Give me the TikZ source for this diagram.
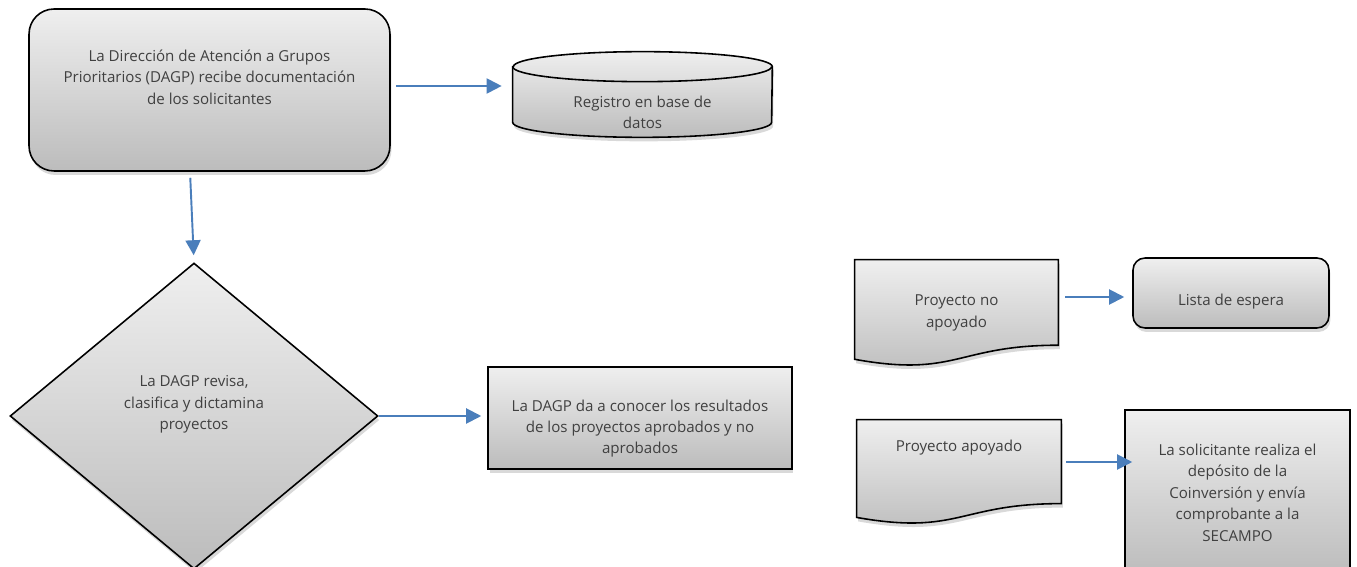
\documentclass[tikz,border=0pt]{standalone}
\usepackage{fontspec}
\setmainfont{Open Sans}
\usetikzlibrary{shapes.geometric, arrows.meta, calc, shadows, backgrounds}

\definecolor{azulflecha}{HTML}{4A7EBB}
\definecolor{grisclaro}{HTML}{EFEFEF}
\definecolor{grisoscuro}{HTML}{BCBCBC}
\definecolor{gristexto}{HTML}{404040}

\tikzset{
  relleno/.style={draw=black, line width=0.9pt, top color=grisclaro, bottom color=grisoscuro,
    drop shadow={shadow xshift=0.03cm, shadow yshift=-0.08cm, opacity=0.3}},
  caja/.style={relleno, text=gristexto, font=\fontsize{8.6}{12.2}\selectfont, align=center, inner sep=0pt},
  redonda/.style={caja, rounded corners=0.5cm},
  documento/.style={rectangle, text=gristexto, font=\fontsize{8.6}{12.2}\selectfont, align=center, inner sep=0pt},
  flecha/.style={draw=azulflecha, line width=1.1pt, -{Triangle[length=0.3cm, width=0.3cm]}}
}

% hoja con borde inferior ondulado
\newcommand\hojadoc[1]{%
  \path[relleno] (#1.north west) -- (#1.north east)
    -- ($(#1.north east)!0.802!(#1.south east)$)
    .. controls ($(#1.north)!0.802!(#1.south)$) and ($(#1.north)!1.1075!(#1.south)$) ..
    ($(#1.north west)!0.934!(#1.south west)$) -- cycle;}

\begin{document}
\begin{tikzpicture}[x=0.02cm, y=-0.02cm]
\useasboundingbox (0,0) rectangle (1357,567);

\node[redonda, minimum width=7.22cm, minimum height=3.24cm, text depth=15pt] (recibe) at (209.5,90)
  {La Dirección de Atención a Grupos\\Prioritarios (DAGP) recibe documentación\\de los solicitantes};
\node[documento, minimum width=5.18cm, minimum height=1.7cm, text height=39pt] (registro) at (642.5,94.5)
  {Registro en base de\\datos};
\node[caja, diamond, minimum width=7.36cm, minimum height=6.12cm, text depth=15pt] (revisa) at (194,416)
  {La DAGP revisa,\\clasifica y dictamina\\proyectos};
\node[caja, minimum width=6.08cm, minimum height=2.04cm, text height=43pt] (conocer) at (640,418)
  {La DAGP da a conocer los resultados\\de los proyectos aprobados y no\\aprobados};
\node[documento, minimum width=4.06cm, minimum height=2.12cm] (noapoyado) at (956.5,313)
  {Proyecto no\\apoyado};
\node[redonda, rounded corners=0.24cm, minimum width=3.92cm, minimum height=1.4cm, text height=16pt] (espera) at (1231,293)
  {Lista de espera};
\node[documento, minimum width=4.08cm, minimum height=2.08cm, text depth=30pt] (apoyado) at (959,472)
  {Proyecto apoyado};
\node[caja, minimum width=4.5cm, minimum height=3.3cm] (solicitante) at (1237.5,492.5)
  {La solicitante realiza el\\depósito de la\\Coinversión y envía\\comprobante a la\\SECAMPO};

\begin{scope}[on background layer]
  % base de datos
  \path[relleno] ([yshift=-0.3cm]registro.north west) -- ([yshift=0.3cm]registro.south west)
    arc[start angle=180, end angle=360, x radius=2.59cm, y radius=0.3cm]
    -- ([yshift=-0.3cm]registro.north east)
    arc[start angle=0, end angle=180, x radius=2.59cm, y radius=0.3cm] -- cycle;
  \draw[line width=0.9pt] ([yshift=-0.3cm]registro.north west)
    arc[start angle=180, end angle=360, x radius=2.59cm, y radius=0.3cm];
  \hojadoc{noapoyado}
  \hojadoc{apoyado}
\end{scope}

\draw[flecha, shorten <=0.1cm, shorten >=0.22cm] ([yshift=0.08cm]recibe.east) -- ([yshift=0.08cm]recibe.east -| registro.west);
\draw[flecha, shorten <=0.12cm, shorten >=0.14cm] ([xshift=-0.39cm]recibe.south) -- (revisa.north);
\draw[flecha, shorten >=0.12cm] (revisa.east) -- (revisa.east -| conocer.west);
\draw[flecha, shorten <=0.14cm, shorten >=0.16cm] ([yshift=-0.08cm]noapoyado.east |- espera.west) -- ([yshift=-0.08cm]espera.west);
\draw[flecha, shorten <=0.1cm, shorten >=-0.16cm] ([yshift=0.2cm]apoyado.east) -- ([yshift=0.2cm]apoyado.east -| solicitante.west);
\end{tikzpicture}
\end{document}
